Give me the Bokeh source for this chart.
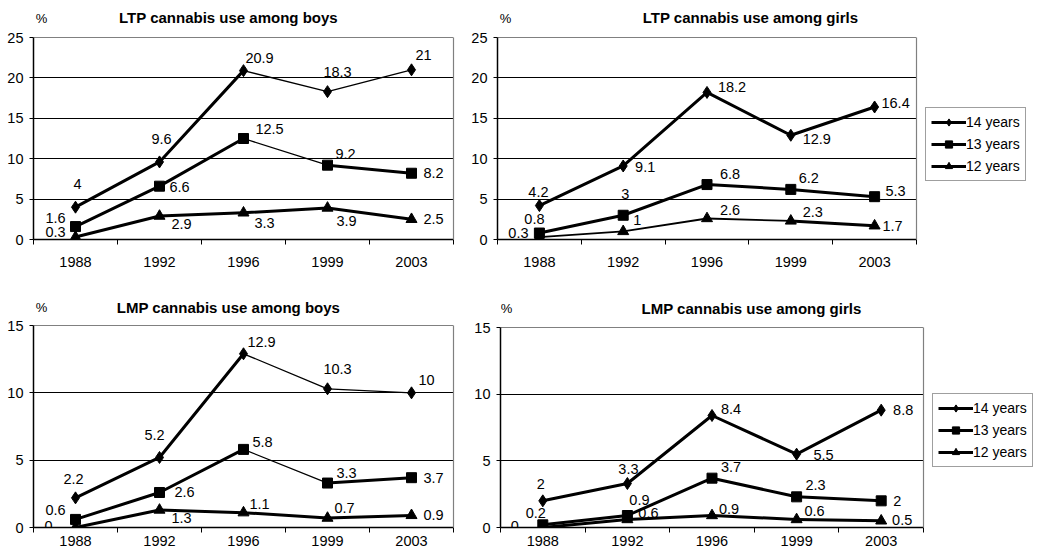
from bokeh.plotting import figure
from bokeh.models import (Range1d, FixedTicker, Legend, LegendItem, LinearAxis, Grid)
from bokeh.layouts import column, row
from bokeh.embed import file_html
from bokeh.resources import INLINE
from bokeh.core.properties import value

# ---------------- data ----------------
years = ["1988", "1992", "1996", "1999", "2003"]
ages = ["14 years", "13 years", "12 years"]

ltp_boys_14 = [4, 9.6, 20.9, 18.3, 21]
ltp_boys_13 = [1.6, 6.6, 12.5, 9.2, 8.2]
ltp_boys_12 = [0.3, 2.9, 3.3, 3.9, 2.5]

ltp_girls_14 = [4.2, 9.1, 18.2, 12.9, 16.4]
ltp_girls_13 = [0.8, 3, 6.8, 6.2, 5.3]
ltp_girls_12 = [0.3, 1, 2.6, 2.3, 1.7]

lmp_boys_14 = [2.2, 5.2, 12.9, 10.3, 10]
lmp_boys_13 = [0.6, 2.6, 5.8, 3.3, 3.7]
lmp_boys_12 = [0, 1.3, 1.1, 0.7, 0.9]

lmp_girls_14 = [2, 3.3, 8.4, 5.5, 8.8]
lmp_girls_13 = [0.2, 0.9, 3.7, 2.3, 2]
lmp_girls_12 = [0, 0.6, 0.9, 0.6, 0.5]

y_ticks_ltp = [0, 5, 10, 15, 20, 25]
y_ticks_lmp = [0, 5, 10, 15]

titles = ["LTP cannabis use among boys", "LTP cannabis use among girls",
          "LMP cannabis use among boys", "LMP cannabis use among girls"]
unit_text = "%"

# ---------------- styles: label offsets (px) and segment line widths ----------------
off_tl = [
    [(2, -23), (2, -23), (16, -13), (10, -20), (12, -15)],
    [(-20, -9), (20, 1), (26, -10), (18, -11), (22, 0)],
    [(-20, -5), (22, 8), (21, 10), (19, 13), (22, 0)],
]
off_tr = [
    [(-1, -14), (22, 1), (25, -5), (26, 4), (21, -4)],
    [(-5, -14), (2, -21), (23, -11), (18, -11), (21, -6)],
    [(-21, -4), (14, -11), (23, -8), (22, -9), (18, 0)],
]
off_bl = [
    [(-2, -19), (-5, -22), (18, -12), (10, -20), (15, -13)],
    [(-20, -9), (25, 0), (19, -7), (19, -10), (22, 0)],
    [(-27, -2), (22, 8), (16, -9), (17, -10), (22, 0)],
]
off_br = [
    [(-2, -17), (1, -15), (19, -7), (27, 1), (22, 0)],
    [(-7, -12), (12, -16), (19, -11), (19, -12), (16, 0)],
    [(-28, -2), (21, -7), (17, -7), (18, -9), (21, -1)],
]
T, t = 3, 1.3   # thick / thin strokes as they appear in the picture
w_tl = [[T, T, t, t], [T, T, t, T], [T, T, T, T]]
w_tr = [[T, T, T, T], [T, T, T, T], [1.8, 1.8, 1.8, T]]
w_bl = [[T, T, t, t], [T, T, t, T], [T, T, T, T]]
w_br = [[T, T, T, T], [T, T, T, T], [T, T, T, T]]

FONT = "Liberation Sans"
FS = "14.5px"
MARKERS = [("diamond", 12), ("square", 10), ("triangle", 11)]


def make_panel(title, yticks, series, offsets, widths, width, height, bl, br, bt, bb,
               plot_h, title_off, pct_off, label_standoff):
    """plot_h: pixel height of the 0..max value area; the frame is taller so
    that the title and the % sign sit inside it above the plotted area."""
    n = len(years)
    xs = [i + 0.5 for i in range(n)]
    ymax = yticks[-1]
    frame_h = height - bt - bb
    y_top = ymax * frame_h / plot_h
    p = figure(width=width, height=height,
               x_range=Range1d(0, n), y_range=Range1d(0, y_top),
               output_backend="svg", toolbar_location=None,
               min_border_left=bl, min_border_right=br,
               min_border_top=bt, min_border_bottom=bb)
    p.background_fill_color = "white"
    p.border_fill_color = "white"
    p.outline_line_color = None

    xa = p.xaxis[0]
    xa.ticker = FixedTicker(ticks=xs, minor_ticks=list(range(n + 1)))
    xa.major_label_overrides = {x: y for x, y in zip(xs, years)}
    xa.major_tick_out = 0
    xa.major_tick_in = 0
    xa.minor_tick_out = 5
    xa.minor_tick_in = 0
    xa.minor_tick_line_color = "black"
    xa.axis_line_color = "black"
    xa.axis_line_width = 1.5
    xa.major_label_text_font = FONT
    xa.major_label_text_font_size = FS
    xa.major_label_text_color = "black"
    xa.major_label_standoff = label_standoff

    ya = p.yaxis[0]
    ya.ticker = FixedTicker(ticks=yticks)
    ya.bounds = (0, ymax)
    ya.major_tick_out = 4
    ya.major_tick_in = 0
    ya.minor_tick_out = 0
    ya.minor_tick_in = 0
    ya.major_tick_line_color = "black"
    ya.axis_line_color = "black"
    ya.axis_line_width = 1.5
    ya.major_label_text_font = FONT
    ya.major_label_text_font_size = FS
    ya.major_label_text_color = "black"
    ya.major_label_standoff = 6

    # right border of the plot area (plain grey line, no ticks)
    ra = LinearAxis(ticker=FixedTicker(ticks=[]), bounds=(0, ymax),
                    axis_line_color="#808080", axis_line_width=1.2,
                    major_tick_out=0, major_tick_in=0,
                    minor_tick_out=0, minor_tick_in=0,
                    major_label_standoff=0)
    p.add_layout(ra, "right")

    p.xgrid.visible = False
    p.ygrid.ticker = FixedTicker(ticks=yticks[1:-1])
    p.ygrid.grid_line_color = "black"
    p.ygrid.grid_line_width = 1
    # top border of the plot area
    p.add_layout(Grid(dimension=1, ticker=FixedTicker(ticks=[ymax]),
                      grid_line_color="#808080", grid_line_width=1))

    for vals, (marker, msize), offs, wds in zip(series, MARKERS, offsets, widths):
        p.segment(x0=xs[:-1], y0=vals[:-1], x1=xs[1:], y1=vals[1:],
                  line_color="black", line_width=wds, line_cap="round")
        p.scatter(xs, vals, marker=marker, size=msize,
                  fill_color="black", line_color="black")
        p.text(x=xs, y=vals, text=[f"{v:g}" for v in vals],
               x_offset=[o[0] for o in offs], y_offset=[o[1] for o in offs],
               text_font=value(FONT), text_font_size=FS, text_color="black",
               text_align="center", text_baseline="middle")

    # chart title and unit sign, anchored at the top-left corner of the value area
    p.text(x=[0], y=[ymax], text=[title], x_offset=[title_off[0]], y_offset=[title_off[1]],
           text_font=value(FONT), text_font_size="15px", text_font_style="bold",
           text_color="black", text_align="center", text_baseline="middle")
    p.text(x=[0], y=[ymax], text=[unit_text], x_offset=[pct_off[0]], y_offset=[pct_off[1]],
           text_font=value(FONT), text_font_size="13px",
           text_color="black", text_align="center", text_baseline="middle")
    return p


def make_legend(width, height, loc):
    q = figure(width=width, height=height, x_range=Range1d(0, 1),
               y_range=Range1d(0, 1), x_axis_type=None, y_axis_type=None,
               output_backend="svg", toolbar_location=None,
               min_border=0)
    q.outline_line_color = None
    q.xgrid.visible = False
    q.ygrid.visible = False
    q.background_fill_color = "white"
    q.border_fill_color = "white"
    items = []
    for (marker, msize), age in zip(MARKERS, ages):
        ln = q.line([-10, -9], [-10, -9], line_color="black", line_width=T)
        sc = q.scatter([-10], [-10], marker=marker, size=msize,
                       fill_color="black", line_color="black")
        items.append(LegendItem(label=age, renderers=[ln, sc]))
    lg = Legend(items=items, location=loc)
    lg.border_line_color = "#404040"
    lg.border_line_width = 1
    lg.background_fill_color = "white"
    lg.background_fill_alpha = 1
    lg.label_text_font = FONT
    lg.label_text_font_size = "14px"
    lg.label_text_color = "black"
    lg.glyph_width = 35
    lg.glyph_height = 18
    lg.label_height = 18
    lg.label_standoff = 0
    lg.spacing = 4
    lg.padding = 5
    lg.margin = 0
    q.add_layout(lg, "center")
    return q


p1 = make_panel(titles[0], y_ticks_ltp, [ltp_boys_14, ltp_boys_13, ltp_boys_12], off_tl, w_tl,
                458, 290, 33, 5, 5, 51, 202, (195, -20), (8, -19), 12)
p2 = make_panel(titles[1], y_ticks_ltp, [ltp_girls_14, ltp_girls_13, ltp_girls_12], off_tr, w_tr,
                462, 290, 39, 4, 5, 51, 202, (253, -20), (8, -19), 12)
l1 = make_legend(117, 290, (5, 58))
p3 = make_panel(titles[2], y_ticks_lmp, [lmp_boys_14, lmp_boys_13, lmp_boys_12], off_bl, w_bl,
                458, 262, 33, 5, 5, 25, 202, (195, -18), (8, -18), 3)
p4 = make_panel(titles[3], y_ticks_lmp, [lmp_girls_14, lmp_girls_13, lmp_girls_12], off_br, w_br,
                469, 262, 42, 4, 5, 25, 200, (251, -19), (6, -19), 3)
l2 = make_legend(110, 262, (5, 60))

layout = column(row(p1, p2, l1, spacing=0), row(p3, p4, l2, spacing=0), spacing=0)

open("out.html", "w").write(file_html(layout, INLINE))
